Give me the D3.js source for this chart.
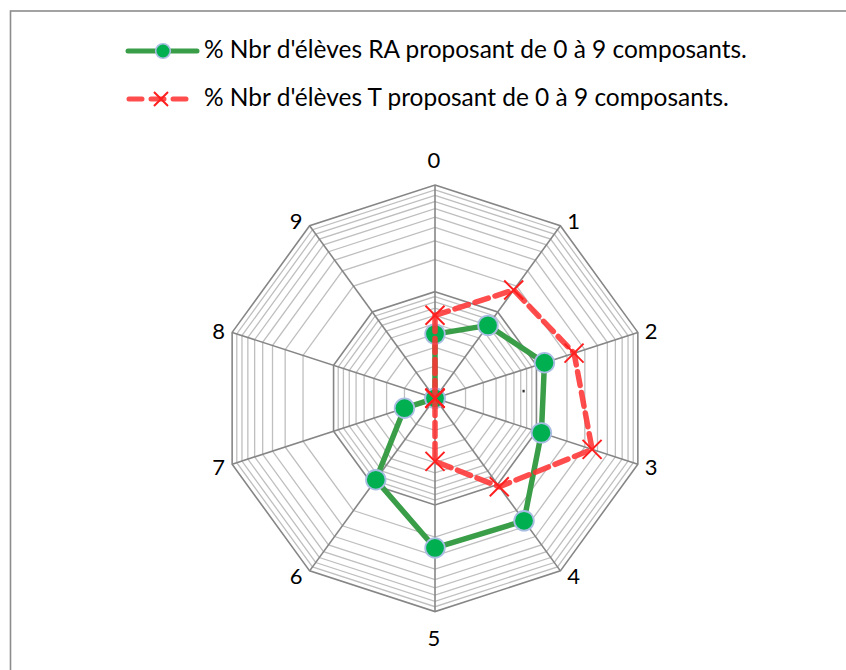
<!DOCTYPE html>
<html><head><meta charset="utf-8">
<script src="https://cdn.jsdelivr.net/npm/d3@7"></script>
<style>html,body{margin:0;padding:0;background:#fff;overflow:hidden}svg{display:block}</style>
</head><body>
<svg id="c" width="846" height="670"></svg>
<script>
const categories = ["0","1","2","3","4","5","6","7","8","9"];
const seriesNames = ["% Nbr d'élèves RA proposant de 0 à 9 composants.", "% Nbr d'élèves T proposant de 0 à 9 composants."];
const valuesRA = [4, 7, 12, 11.2, 26.3, 25.3, 8.8, 2, 1, 1];
const valuesT  = [6, 18, 23.5, 35.4, 10.6, 3.9, 1, 1, 1, 1];
const axisMin = 1, axisMax = 100;

const svg = d3.select("#c");
const W = 846, H = 670;
const FONT = "Lato, 'Open Sans', sans-serif";

// chart border
svg.append("rect").attr("x",10.5).attr("y",11).attr("width",W).attr("height",H)
  .attr("fill","#fff").attr("stroke","#8c8c8c").attr("stroke-width",1.6);

const cx = 435, cy = 398.3, R = 213.3;
const r = d3.scaleLog().domain([axisMin, axisMax]).range([0, R]);
const ang = d3.scalePoint().domain(categories).range([0, 2*Math.PI*(categories.length-1)/categories.length]);
const pt = (c, v) => { const a = ang(c), rr = r(v); return [cx + rr*Math.sin(a), cy - rr*Math.cos(a)]; };

const g = svg.append("g");
// gridlines (log ticks)
const ticks = r.ticks(); // 1..10,20..100
const majors = ticks.filter(t => Math.abs(Math.log10(t) - Math.round(Math.log10(t))) < 1e-9 && t > axisMin);
const minors = ticks.filter(t => !majors.includes(t) && t > axisMin);
const ring = v => d3.line()(categories.map(c => pt(c, v))) + "Z";
g.selectAll("path.minor").data(minors).join("path").attr("class","minor")
  .attr("d", ring).attr("fill","none").attr("stroke","#bfbfbf").attr("stroke-width",1.3);
g.selectAll("path.major").data(majors).join("path").attr("class","major")
  .attr("d", ring).attr("fill","none").attr("stroke","#868686").attr("stroke-width",1.6);
// spokes
g.selectAll("line.spoke").data(categories).join("line").attr("class","spoke")
  .attr("x1",cx).attr("y1",cy)
  .attr("x2",c=>pt(c,axisMax)[0]).attr("y2",c=>pt(c,axisMax)[1])
  .attr("stroke","#868686").attr("stroke-width",1.6);

// category labels
g.selectAll("text.cat").data(categories).join("text").attr("class","cat")
  .each(function(c){
    const [vx, vy] = pt(c, axisMax);
    const a = ang(c), s = Math.sin(a), co = -Math.cos(a);
    const t = d3.select(this);
    if (Math.abs(s) < 1e-6) {
      t.attr("x", vx - 1).attr("y", vy + (co < 0 ? -26 : 26)).attr("text-anchor","middle");
    } else {
      t.attr("x", vx + (s > 0 ? 7 : -7)).attr("y", vy + co*6).attr("text-anchor", s > 0 ? "start" : "end");
    }
  })
  .attr("dominant-baseline","central")
  .attr("font-family",FONT).attr("font-size",22).attr("fill","#000").text(c=>c);

// stray dot present in reference
svg.append("rect").attr("x",cx+87.5).attr("y",cy-8.5).attr("width",2.2).attr("height",2.6).attr("fill","#333");

const line = d3.line();
// Series RA (green)
const ptsRA = categories.map((c,i)=>pt(c, valuesRA[i]));
g.append("path").attr("d", line(ptsRA)+"Z").attr("fill","none")
  .attr("stroke","#3a9d48").attr("stroke-width",5.5).attr("stroke-linejoin","round");
g.selectAll("circle.ra").data(ptsRA).join("circle").attr("class","ra")
  .attr("cx",d=>d[0]).attr("cy",d=>d[1]).attr("r",9.8)
  .attr("fill","#00b050").attr("stroke","#a9bde3").attr("stroke-width",1.8);

// Series T (red dashed)
const ptsT = categories.map((c,i)=>pt(c, valuesT[i]));
g.append("path").attr("d", line(ptsT)+"Z").attr("fill","none")
  .attr("stroke","#ff3333").attr("stroke-opacity",0.88).attr("stroke-width",5.5)
  .attr("stroke-dasharray","14,7").attr("stroke-linecap","round");
const xMark = (sel, s) => sel.append("path")
  .attr("d", `M${-s},${-s}L${s},${s}M${-s},${s}L${s},${-s}`)
  .attr("stroke","#ff1f1f").attr("stroke-width",2).attr("fill","none");
ptsT.forEach(p => xMark(g.append("g").attr("transform",`translate(${p[0]},${p[1]})`), 9.5));

// legend
const leg = svg.append("g");
const rows = [{y:51, name:seriesNames[0]}, {y:99, name:seriesNames[1]}];
// RA
leg.append("line").attr("x1",128).attr("x2",197).attr("y1",rows[0].y).attr("y2",rows[0].y)
  .attr("stroke","#3a9d48").attr("stroke-width",5).attr("stroke-linecap","round");
leg.append("circle").attr("cx",163).attr("cy",rows[0].y).attr("r",7.3)
  .attr("fill","#00b050").attr("stroke","#a9bde3").attr("stroke-width",1.6);
// T
leg.append("line").attr("x1",129).attr("x2",188).attr("y1",rows[1].y).attr("y2",rows[1].y)
  .attr("stroke","#ff3333").attr("stroke-opacity",0.88).attr("stroke-width",5)
  .attr("stroke-linecap","round").attr("stroke-dasharray","13,9");
xMark(leg.append("g").attr("transform",`translate(161,${rows[1].y})`), 7);

const texts = leg.selectAll("text.leg").data(rows).join("text").attr("class","leg")
  .attr("x",204).attr("y",d=>d.y+7).attr("font-family",FONT).attr("font-size",21)
  .attr("fill","#000").text(d=>d.name);
// fit first legend text to reference width (~543px)
const w0 = texts.node().getComputedTextLength();
const fs = 21 * 543 / w0;
texts.attr("font-size", fs);
</script>
</body></html>
